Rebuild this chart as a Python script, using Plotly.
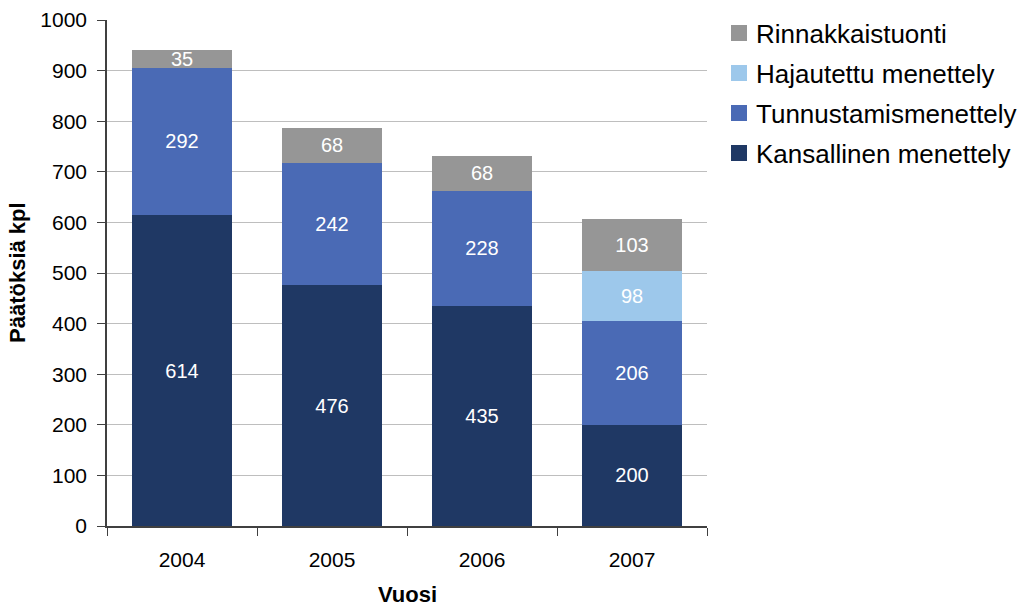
import plotly.graph_objects as go

years = ["2004", "2005", "2006", "2007"]
kansallinen = [614, 476, 435, 200]
tunnustamis = [292, 242, 228, 206]
hajautettu = [None, None, None, 98]
rinnakkais = [35, 68, 68, 103]

series = [
    ("Kansallinen menettely", kansallinen, "#1F3864"),
    ("Tunnustamismenettely", tunnustamis, "#4A6AB5"),
    ("Hajautettu menettely", hajautettu, "#9DC8EB"),
    ("Rinnakkaistuonti", rinnakkais, "#969696"),
]

FONT = "Liberation Sans, Arial"
W, H = 1026, 610
ML, MR, MT, MB = 107, 319, 20, 84
PW, PH = W - ML - MR, H - MT - MB

fig = go.Figure()
for name, vals, color in series:
    fig.add_trace(go.Bar(
        x=years, y=vals, name=name,
        marker=dict(color=color, line=dict(width=0)),
        text=["" if v is None else str(v) for v in vals],
        textposition="inside", insidetextanchor="middle",
        textangle=0, constraintext="none",
        textfont=dict(color="white", size=20, family=FONT),
    ))

# Legend drawn beside the plot: swatch + label, top entry is the top stack layer
def px_x(px):
    return (px - ML) / PW

def px_y(py):
    return (MT + PH - py) / PH

shapes, annotations = [], []
for row, (name, _, color) in enumerate(reversed(series)):
    cy = 33 + 40 * row
    shapes.append(dict(
        type="rect", xref="paper", yref="paper",
        x0=px_x(731), x1=px_x(747), y0=px_y(cy + 8), y1=px_y(cy - 8),
        fillcolor=color, line=dict(width=0),
    ))
    annotations.append(dict(
        text=name, xref="paper", yref="paper",
        x=px_x(754), y=px_y(cy + 1), xanchor="left", yanchor="middle",
        showarrow=False, font=dict(size=26, family=FONT, color="black"),
    ))

# Axis titles
annotations.append(dict(
    text="<b>Vuosi</b>", xref="paper", yref="paper",
    x=0.5, y=px_y(595), xanchor="center", yanchor="middle",
    showarrow=False, font=dict(size=22, family=FONT, color="black"),
))
annotations.append(dict(
    text="<b>Päätöksiä kpl</b>", xref="paper", yref="paper",
    x=px_x(17), y=0.5, xanchor="center", yanchor="middle", textangle=-90,
    showarrow=False, font=dict(size=22, family=FONT, color="black"),
))

fig.update_layout(
    barmode="stack",
    bargap=1/3,
    width=W, height=H,
    margin=dict(l=ML, r=MR, t=MT, b=MB),
    plot_bgcolor="white", paper_bgcolor="white",
    font=dict(family=FONT, color="black", size=21),
    uniformtext=dict(minsize=20, mode="show"),
    showlegend=False,
    shapes=shapes, annotations=annotations,
)
fig.update_yaxes(
    range=[0, 1000], dtick=100,
    showgrid=True, gridcolor="#BEBEBE", gridwidth=1,
    showline=True, linecolor="#404040", linewidth=1.5,
    ticks="outside", ticklen=8, tickcolor="#404040",
    tickfont=dict(size=21), ticklabelstandoff=6,
    zeroline=False, automargin=False,
)
fig.update_xaxes(
    showline=True, linecolor="#404040", linewidth=1.5,
    ticks="outside", ticklen=8, tickcolor="#404040", tickson="boundaries",
    tickfont=dict(size=21), ticklabelstandoff=14,
    automargin=False,
)

fig.write_html("out.html")
